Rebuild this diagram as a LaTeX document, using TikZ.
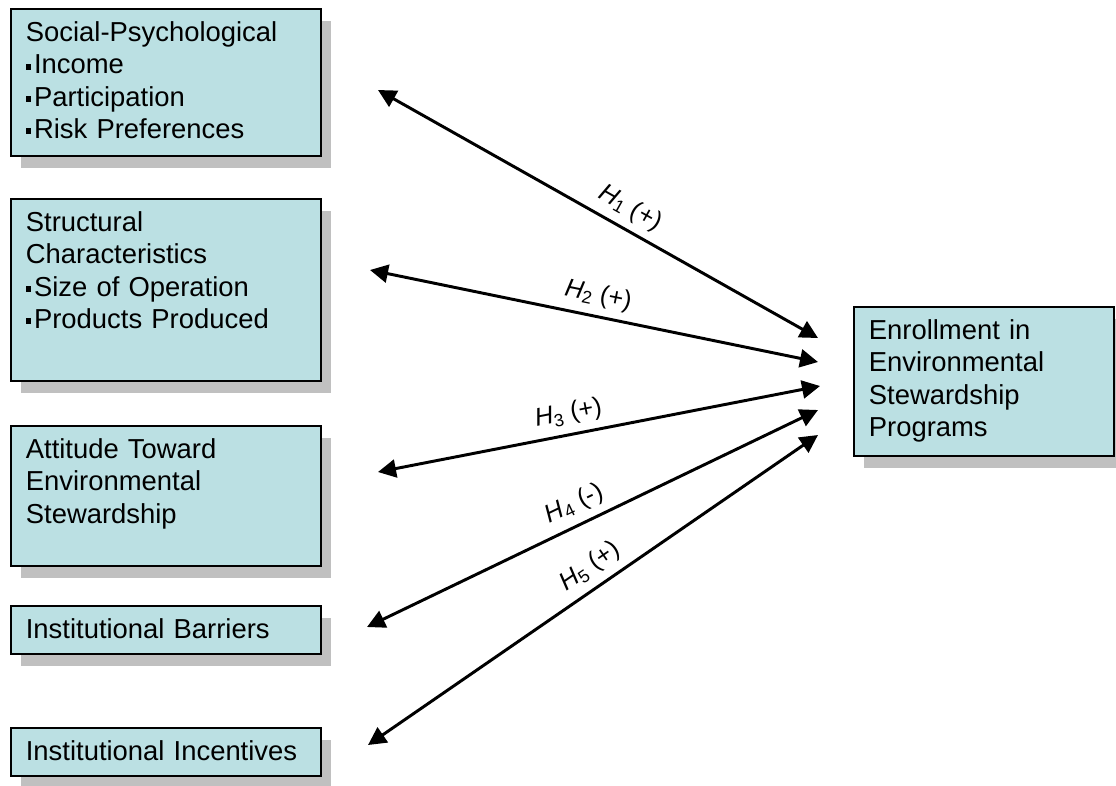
\documentclass[tikz,border=0pt]{standalone}
\usepackage{fontspec}
\setmainfont{Liberation Sans}
\usetikzlibrary{arrows.meta,shadows}
\definecolor{boxfill}{HTML}{BBE0E3}
\definecolor{shadowgray}{HTML}{C0C0C0}
\newcommand{\drawbox}{\node[factor]}
\newcommand{\drawdummy}{\node[minimum size=0,inner sep=0,outer sep=0]}
\newcommand{\bul}{\rule[0.3ex]{0.2em}{0.2em}\hspace{0.1em}}
\newcommand{\hyp}[2]{\textit{H}\textsubscript{#1} (#2)}

\begin{document}
\begin{tikzpicture}[x=0.025cm, y=-0.025cm,
  factor/.style={draw, line width=1.2pt, fill=boxfill, anchor=north west,
    general shadow={fill=shadowgray, shadow xshift=0.25cm, shadow yshift=-0.3cm},
    text width=7cm, inner xsep=0.375cm, inner ysep=8pt, align=left,
    text height=15.5pt, font=\fontsize{19.5}{22.8}\selectfont},
  link/.style={{Triangle[length=0.45cm,width=0.45cm]}-{Triangle[length=0.45cm,width=0.45cm]}, line width=2.1pt},
  hlabel/.style={sloped, above=2pt, font=\fontsize{18}{20}\selectfont}]
\useasboundingbox (0,0) rectangle (1116,785);

%factors on the left
\drawbox (soc) [text depth=73pt] at (10,8) {Social-Psychological\\ \bul Income\\ \bul Participation\\ \bul Risk Preferences};
\drawbox (struc) [text depth=98pt] at (10,198) {Structural\\ Characteristics\\ \bul Size of Operation\\ \bul Products Produced};
\drawbox (att) [text depth=68pt] at (10,425) {Attitude Toward\\ Environmental\\ Stewardship};
\drawbox (barr) [text depth=2.6pt] at (10,605) {Institutional Barriers};
\drawbox (incent) [text depth=2.6pt] at (10,727) {Institutional Incentives};

%outcome
\drawbox (enroll) [text width=5.75cm, text depth=74.5pt] at (853,306) {Enrollment in\\ Environmental\\ Stewardship\\ Programs};

%arrow ends
\drawdummy (l1) at (378,90) {};
\drawdummy (l2) at (370,270) {};
\drawdummy (l3) at (378,472) {};
\drawdummy (l4) at (367,627) {};
\drawdummy (l5) at (368,745) {};
\drawdummy (r1) at (818,338) {};
\drawdummy (r2) at (818,362) {};
\drawdummy (r3) at (820,386) {};
\drawdummy (r4) at (818,410) {};
\drawdummy (r5) at (818,435) {};

\draw[link] (l1) to node [hlabel, pos=0.55] {\hyp{1}{+}} (r1);
\draw[link] (l2) to node [hlabel, pos=0.50] {\hyp{2}{+}} (r2);
\draw[link] (l3) to node [hlabel, pos=0.44] {\hyp{3}{+}} (r3);
\draw[link] (l4) to node [hlabel, pos=0.48] {\hyp{4}{-}} (r4);
\draw[link] (l5) to node [hlabel, pos=0.52] {\hyp{5}{+}} (r5);
\end{tikzpicture}
\end{document}
